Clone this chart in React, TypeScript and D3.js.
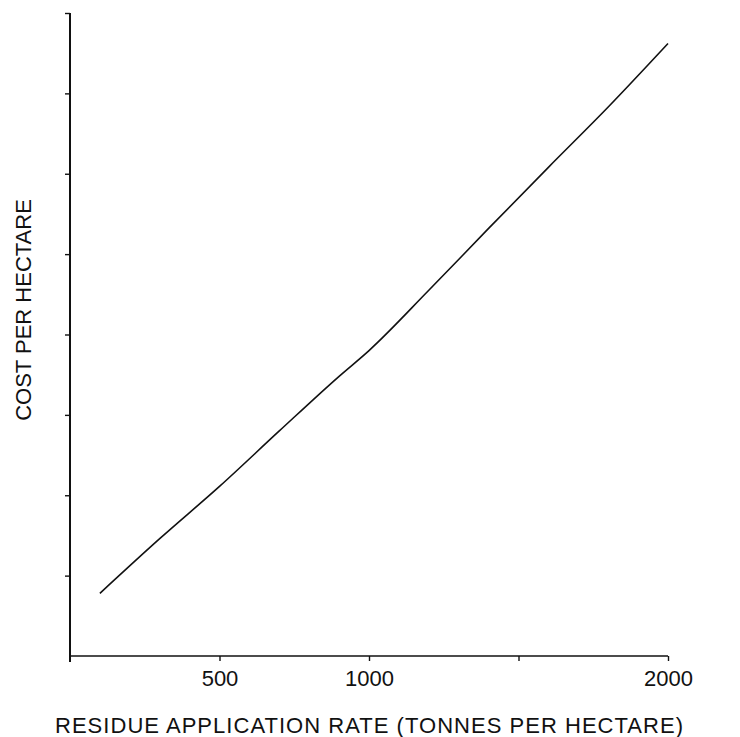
import * as d3 from "d3"
import React, { useEffect, useRef } from "react"

// values
const rates = [100, 300, 500, 700, 900, 1000, 1200, 1400, 1600, 1800, 2000]
const costs = [0.78, 1.46, 2.11, 2.8, 3.48, 3.8, 4.55, 5.32, 6.08, 6.83, 7.62]
const xTicks = [500, 1000, 1500, 2000]
const xTickLabels = ["500", "1000", "", "2000"]
const yTicks = [1, 2, 3, 4, 5, 6, 7, 8]

const W = 740, H = 737
const left = 70, right = 668, top = 13, bottom = 656

export default function App() {
  const ref = useRef<SVGSVGElement>(null)

  useEffect(() => {
    const svg = d3.select(ref.current)
    svg.selectAll("*").remove()

    const x = d3.scaleLinear().domain([0, 2000]).range([left, right])
    const y = d3.scaleLinear().domain([0, 8]).range([bottom, top])
    const font = "'Liberation Sans', Arial, Helvetica, sans-serif"

    //x axis, ticks pointing down
    const xAxis = d3.axisBottom(x)
      .tickValues(xTicks)
      .tickSize(5)
      .tickPadding(9)
      .tickFormat((d, i) => xTickLabels[i])
    const gx = svg.append("g")
      .attr("transform", "translate(0," + bottom + ")")
      .call(xAxis)
    gx.select(".domain").attr("d", "M" + left + ",0H" + right).attr("stroke-width", 1.6).attr("stroke", "#111")
    gx.selectAll(".tick line").attr("stroke-width", 1.4).attr("stroke", "#111")
    gx.selectAll(".tick text")
      .attr("font-family", font)
      .attr("font-size", 22)
      .attr("fill", "#111")

    //y axis, ticks to the left, no labels
    const yAxis = d3.axisLeft(y)
      .tickValues(yTicks)
      .tickSize(5)
      .tickFormat(() => "")
    const gy = svg.append("g")
      .attr("transform", "translate(" + left + ",0)")
      .call(yAxis)
    gy.select(".domain").attr("d", "M0," + (bottom + 6) + "V" + top).attr("stroke-width", 2).attr("stroke", "#111")
    gy.selectAll(".tick line").attr("stroke-width", 1.4).attr("stroke", "#111")

    // small tick at the origin of x
    svg.append("line")
      .attr("x1", left).attr("x2", left)
      .attr("y1", bottom).attr("y2", bottom + 6)
      .attr("stroke", "#111").attr("stroke-width", 1.6)

    //the curve
    const line = d3.line<number>()
      .x((d, i) => x(rates[i]))
      .y(d => y(d))
      .curve(d3.curveMonotoneX)
    svg.append("path")
      .datum(costs)
      .attr("fill", "none")
      .attr("stroke", "#111")
      .attr("stroke-width", 1.6)
      .attr("d", line)

    //axis titles
    svg.append("text")
      .attr("x", (left + right) / 2)
      .attr("y", 733)
      .attr("text-anchor", "middle")
      .attr("font-family", font)
      .attr("font-size", 22)
      .attr("fill", "#111")
      .attr("textLength", 628)
      .attr("lengthAdjust", "spacing")
      .text("RESIDUE APPLICATION RATE (TONNES PER HECTARE)")

    svg.append("text")
      .attr("transform", "translate(31,310) rotate(-90)")
      .attr("text-anchor", "middle")
      .attr("font-family", font)
      .attr("font-size", 22)
      .attr("fill", "#111")
      .text("COST PER HECTARE")
  }, [])

  return (
    <svg
      ref={ref}
      width={W}
      height={H}
      style={{ position: "absolute", left: 0, top: 0, background: "#fff" }}
    />
  )
}
